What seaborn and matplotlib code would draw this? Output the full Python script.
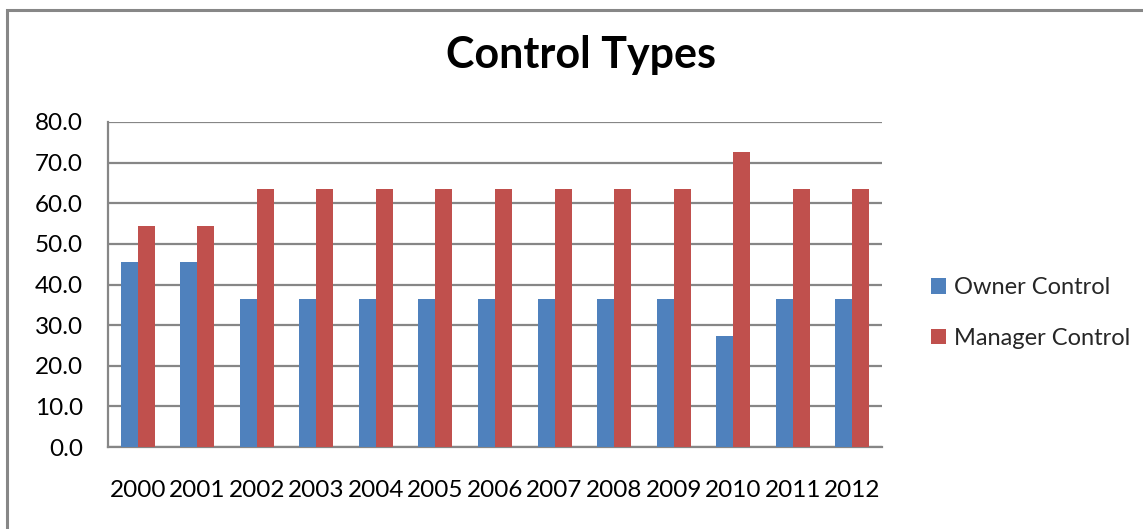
import matplotlib
matplotlib.use("Agg")
import matplotlib.pyplot as plt
import matplotlib.patches as mpatches
import pandas as pd
import seaborn as sns

years = ["2000", "2001", "2002", "2003", "2004", "2005", "2006",
         "2007", "2008", "2009", "2010", "2011", "2012"]
owner_control = [45.5, 45.5, 36.4, 36.4, 36.4, 36.4, 36.4,
                 36.4, 36.4, 36.4, 27.3, 36.4, 36.4]
manager_control = [54.5, 54.5, 63.6, 63.6, 63.6, 63.6, 63.6,
                   63.6, 63.6, 63.6, 72.7, 63.6, 63.6]
series_names = ["Owner Control", "Manager Control"]
series_colors = ["#4F81BD", "#C0504D"]
y_ticks = [0, 10, 20, 30, 40, 50, 60, 70, 80]

df = pd.DataFrame({
    "Year": years * 2,
    "Value": owner_control + manager_control,
    "Series": [series_names[0]] * len(years) + [series_names[1]] * len(years),
})

sns.set_theme(style="white")
plt.rcParams["font.family"] = ["Lato", "DejaVu Sans"]

fig = plt.figure(figsize=(11.43, 5.29), dpi=100)
ax = fig.add_axes([108 / 1143, 1 - 447 / 529, 774 / 1143, 325 / 529])

sns.barplot(data=df, x="Year", y="Value", hue="Series", order=years,
            hue_order=series_names, palette=series_colors, saturation=1,
            width=0.57, gap=0, edgecolor="none", linewidth=0, ax=ax,
            legend=False, zorder=3)

ax.set_xlim(-0.5, len(years) - 0.5)
ax.set_ylim(0, 80)
ax.set_yticks(y_ticks)
ax.set_yticklabels([f"{v:.1f}" for v in y_ticks])
ax.set_xlabel("")
ax.set_ylabel("")
ax.yaxis.grid(True, color="#868686", linewidth=1.6, zorder=0)
ax.set_axisbelow(True)
for side in ("top", "right"):
    ax.spines[side].set_visible(False)
for side in ("left", "bottom"):
    ax.spines[side].set_color("#868686")
    ax.spines[side].set_linewidth(1.6)
ax.tick_params(axis="y", length=0, pad=18, labelsize=17.5, labelcolor="black")
ax.tick_params(axis="x", length=0, pad=24, labelsize=17.5, labelcolor="black")

fig.text(581 / 1143, 1 - 55 / 529, "Control Types", ha="center", va="center",
         fontsize=31, fontweight="bold", color="black")

handles = [mpatches.Patch(facecolor=c, edgecolor="none", label=n)
           for n, c in zip(series_names, series_colors)]
fig.legend(handles=handles, loc="center left",
           bbox_to_anchor=(922 / 1143, 1 - 313 / 529), frameon=False,
           fontsize=17, handlelength=0.62, handleheight=0.62, handletextpad=0.35,
           labelspacing=1.25, borderaxespad=0)

# chart-area frame
fig.add_artist(mpatches.Rectangle((7 / 1143, -0.05), 1.2, 1 - 10 / 529 + 0.05,
                                  transform=fig.transFigure, fill=False,
                                  edgecolor="#878787", linewidth=2.2))

fig.savefig("out.png", dpi=100, facecolor="white")
